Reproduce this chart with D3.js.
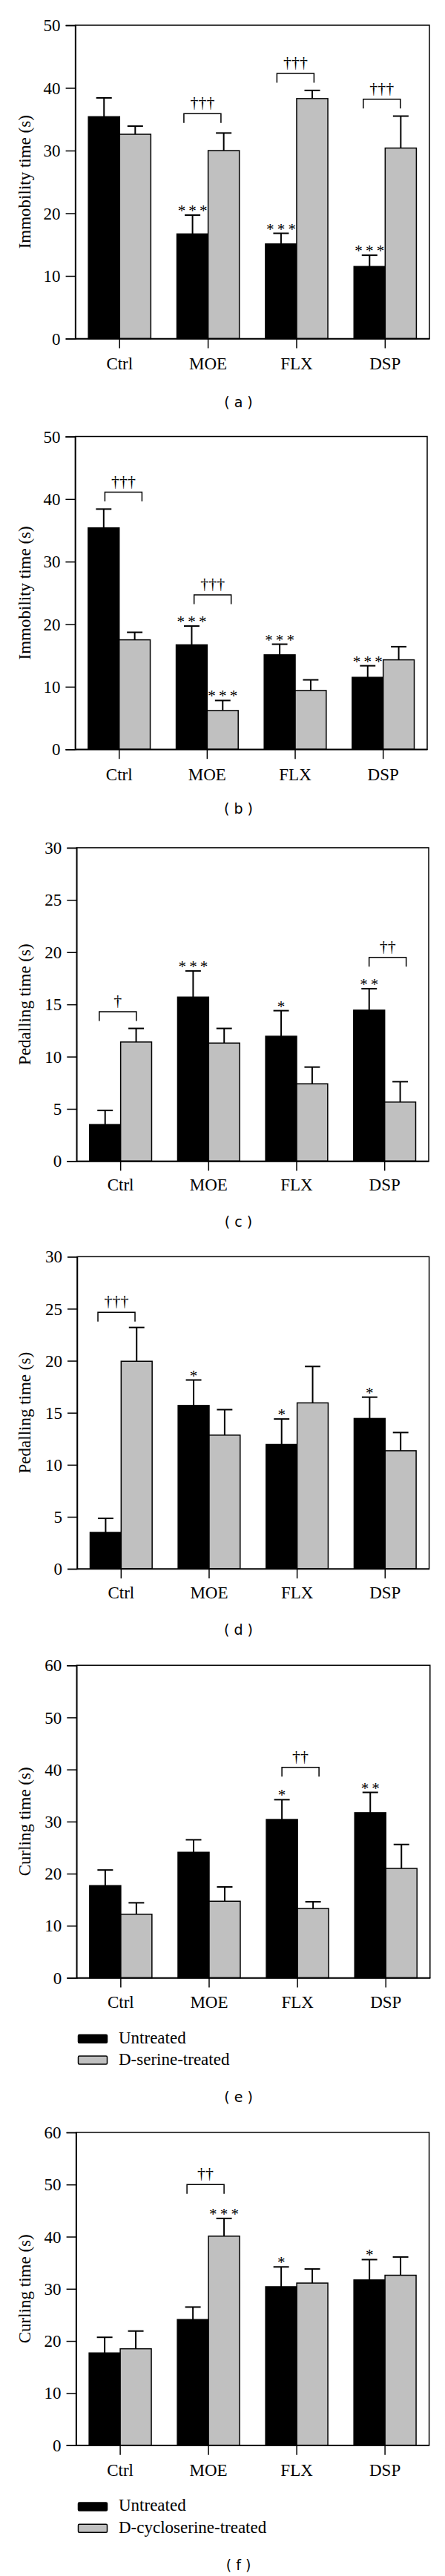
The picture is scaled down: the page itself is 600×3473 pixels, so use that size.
<!DOCTYPE html>
<html><head><meta charset="utf-8">
<script src="https://cdn.jsdelivr.net/npm/d3@7"></script>
<style>html,body{margin:0;padding:0;background:#fff;}</style>
</head><body>
<script>
// ---------- DATA ----------
const categories = ["Ctrl", "MOE", "FLX", "DSP"];
const panelLetters = ["a", "b", "c", "d", "e", "f"];
const yTitles = ["Immobility time (s)", "Immobility time (s)", "Pedalling time (s)", "Pedalling time (s)", "Curling time (s)", "Curling time (s)"];
const yMax = [50, 50, 30, 30, 60, 60];
const yStep = [10, 10, 5, 5, 10, 10];

const untreatedMean = [
  [35.4, 16.7, 15.1, 11.5],
  [35.4, 16.7, 15.1, 11.5],
  [3.5, 15.7, 11.95, 14.45],
  [3.5, 15.7, 11.95, 14.45],
  [17.7, 24.1, 30.4, 31.7],
  [17.7, 24.1, 30.4, 31.7]
];
const untreatedSem = [
  [3.0, 3.0, 1.7, 1.8],
  [3.0, 3.0, 1.7, 1.85],
  [1.35, 2.5, 2.45, 2.05],
  [1.35, 2.45, 2.45, 2.05],
  [3.0, 2.4, 3.8, 3.9],
  [3.0, 2.4, 3.8, 3.9]
];
const treatedMean = [
  [32.6, 30.0, 38.3, 30.4],
  [17.5, 6.2, 9.4, 14.3],
  [11.4, 11.3, 7.4, 5.65],
  [19.95, 12.85, 15.95, 11.35],
  [12.2, 14.7, 13.3, 21.0],
  [18.5, 40.1, 31.1, 32.6]
];
const treatedSem = [
  [1.3, 2.8, 1.3, 5.1],
  [1.2, 1.6, 1.7, 2.1],
  [1.3, 1.4, 1.6, 1.95],
  [3.25, 2.45, 3.5, 1.75],
  [2.2, 2.75, 1.3, 4.6],
  [3.4, 3.4, 2.7, 3.5]
];
const legendLabels = [null, null, null, null,
  ["Untreated", "D-serine-treated"],
  ["Untreated", "D-cycloserine-treated"]];

// significance vs control (asterisks): [panel, category, series(0=untreated,1=treated), label]
const starMarks = [
  [0, "MOE", 0, "***"], [0, "FLX", 0, "***"], [0, "DSP", 0, "***"],
  [1, "MOE", 0, "***"], [1, "MOE", 1, "***"], [1, "FLX", 0, "***"], [1, "DSP", 0, "***"],
  [2, "MOE", 0, "***"], [2, "FLX", 0, "*"], [2, "DSP", 0, "**"],
  [3, "MOE", 0, "*"], [3, "FLX", 0, "*"], [3, "DSP", 0, "*"],
  [4, "FLX", 0, "*"], [4, "DSP", 0, "**"],
  [5, "MOE", 1, "***"], [5, "FLX", 0, "*"], [5, "DSP", 0, "*"]
];
// brackets (daggers): [panel, category, level(value), label]
const bracketMarks = [
  [0, "MOE", 35.9, "†††"], [0, "FLX", 42.3, "†††"], [0, "DSP", 38.2, "†††"],
  [1, "Ctrl", 41.1, "†††"], [1, "MOE", 24.7, "†††"],
  [2, "Ctrl", 14.3, "†"], [2, "DSP", 19.5, "††"],
  [3, "Ctrl", 24.65, "†††"],
  [4, "FLX", 40.4, "††"],
  [5, "MOE", 50.0, "††"]
];

// ---------- LAYOUT ----------
const layout = [
  {top: 34, bottom: 456.5, left: 101.6, right: 579, catY: 490, labelY: 542},
  {top: 588.5, bottom: 1010.2, left: 101.4, right: 576, catY: 1043.5, labelY: 1089.8},
  {top: 1142.9, bottom: 1565.4, left: 103.3, right: 578, catY: 1596.9, labelY: 1646.8},
  {top: 1694.3, bottom: 2115.1, left: 104, right: 578.6, catY: 2146.5, labelY: 2196.5},
  {top: 2245.2, bottom: 2666.5, left: 103.3, right: 579.8, catY: 2698.9, labelY: 2827.4, legendY: [2748.7, 2777.6]},
  {top: 2874.9, bottom: 3296.7, left: 102.6, right: 578.6, catY: 3330.3, labelY: 3458.1, legendY: [3379.5, 3408.7]}
];
const bracketNudge = {"0MOE": -7.7, "0FLX": -1.6, "0DSP": -4.5, "1Ctrl": 5.7, "1MOE": 7.3,
  "2Ctrl": -3.8, "2DSP": 4, "3Ctrl": -6.3, "4FLX": 4, "5MOE": -4};

const SERIF = "'Liberation Serif','Times New Roman',serif";
const SANS = "'DejaVu Sans',Verdana,sans-serif";
const FS = 23;
const GREY = "#c0c0c0";
const LW = 1.5;

const svg = d3.select("body").append("svg")
  .attr("width", 600).attr("height", 3473)
  .style("display", "block");
svg.append("rect").attr("width", 600).attr("height", 3473).attr("fill", "#fff");

panelLetters.forEach((letter, p) => {
  const L = layout[p];
  const g = svg.append("g");
  const y = d3.scaleLinear().domain([0, yMax[p]]).range([L.bottom, L.top]);
  const x0 = d3.scaleBand().domain(categories).range([L.left, L.right]).padding(0);
  const groupW = x0.bandwidth() * 0.705;
  const x1 = d3.scaleBand().domain([0, 1]).range([0, groupW]).padding(0);
  const bx = (cat, s) => x0(cat) + (x0.bandwidth() - groupW) / 2 + x1(s);
  const bw = x1.bandwidth();

  // bars
  const rows = [];
  categories.forEach((c, i) => {
    rows.push({cat: c, s: 0, m: untreatedMean[p][i], e: untreatedSem[p][i]});
    rows.push({cat: c, s: 1, m: treatedMean[p][i], e: treatedSem[p][i]});
  });
  // error bars (drawn first, bars over them at base)
  rows.forEach(r => {
    const cx = bx(r.cat, r.s) + bw / 2;
    g.append("line").attr("x1", cx).attr("x2", cx)
      .attr("y1", y(r.m)).attr("y2", y(r.m + r.e))
      .attr("stroke", "#000").attr("stroke-width", 2);
    g.append("line").attr("x1", cx - bw / 4).attr("x2", cx + bw / 4)
      .attr("y1", y(r.m + r.e)).attr("y2", y(r.m + r.e))
      .attr("stroke", "#000").attr("stroke-width", 2);
  });
  g.selectAll("rect.bar").data(rows).join("rect").attr("class", "bar")
    .attr("x", d => bx(d.cat, d.s))
    .attr("y", d => y(d.m))
    .attr("width", bw)
    .attr("height", d => y(0) - y(d.m))
    .attr("fill", d => d.s === 0 ? "#000" : GREY)
    .attr("stroke", "#000").attr("stroke-width", LW);

  // frame
  g.append("rect").attr("x", L.left).attr("y", L.top)
    .attr("width", L.right - L.left).attr("height", L.bottom - L.top)
    .attr("fill", "none").attr("stroke", "#000").attr("stroke-width", LW);

  // y axis
  const yAxis = d3.axisLeft(y).tickValues(d3.range(0, yMax[p] + 0.001, yStep[p]))
    .tickSize(13).tickPadding(7).tickFormat(d3.format("d"));
  const ya = g.append("g").attr("transform", `translate(${L.left},0)`).call(yAxis);
  ya.select(".domain").attr("stroke-width", LW);
  ya.selectAll(".tick line").attr("stroke-width", LW);
  ya.selectAll(".tick text").attr("font-family", SERIF).attr("font-size", FS).attr("fill", "#000").attr("dy", "0.33em");

  // x axis
  const xAxis = d3.axisBottom(x0).tickSize(13).tickSizeOuter(0).tickFormat(() => "");
  const xa = g.append("g").attr("transform", `translate(0,${L.bottom})`).call(xAxis);
  xa.select(".domain").attr("stroke-width", LW);
  xa.selectAll(".tick line").attr("stroke-width", LW);
  g.selectAll("text.cat").data(categories).join("text").attr("class", "cat")
    .attr("x", d => x0(d) + x0.bandwidth() / 2)
    .attr("y", L.catY + 8)
    .attr("text-anchor", "middle")
    .attr("font-family", SERIF).attr("font-size", FS)
    .text(d => d);

  // y title
  g.append("text")
    .attr("transform", `translate(33.5,${(L.top + L.bottom) / 2}) rotate(-90)`)
    .attr("text-anchor", "middle").attr("dominant-baseline", "central")
    .attr("font-family", SERIF).attr("font-size", FS)
    .text(yTitles[p]);

  // asterisks
  starMarks.filter(s => s[0] === p).forEach(s => {
    const i = categories.indexOf(s[1]);
    const m = s[2] === 0 ? untreatedMean[p][i] + untreatedSem[p][i] : treatedMean[p][i] + treatedSem[p][i];
    const cx = bx(s[1], s[2]) + bw / 2;
    g.append("text").attr("x", cx).attr("y", y(m) + 1)
      .attr("text-anchor", "middle")
      .attr("font-family", SERIF).attr("font-size", 21)
      .text(s[3].split("").join("\u2009"));
  });

  // brackets
  bracketMarks.filter(b => b[0] === p).forEach(b => {
    const cx = x0(b[1]) + x0.bandwidth() / 2 + (bracketNudge[p + b[1]] || 0);
    const yy = y(b[2]);
    const half = 25;
    g.append("path")
      .attr("d", `M${cx - half},${yy + 12.5}V${yy}H${cx + half}V${yy + 12.5}`)
      .attr("fill", "none").attr("stroke", "#000").attr("stroke-width", LW);
    g.append("text").attr("x", cx).attr("y", yy - 8)
      .attr("text-anchor", "middle")
      .attr("font-family", SERIF).attr("font-size", 22)
      .text(b[3]);
  });

  // legend
  if (legendLabels[p]) {
    legendLabels[p].forEach((lab, k) => {
      const ly = L.legendY[k];
      g.append("rect").attr("x", 105.5).attr("y", ly - 5.5).attr("width", 39).attr("height", 11)
        .attr("rx", 1.5)
        .attr("fill", k === 0 ? "#000" : GREY).attr("stroke", "#000").attr("stroke-width", LW);
      g.append("text").attr("x", 160).attr("y", ly - 1.7 + 7.6)
        .attr("font-family", SERIF).attr("font-size", FS)
        .text(lab);
    });
  }

  // panel label
  g.append("text").attr("x", 321.5).attr("y", L.labelY + 7)
    .attr("text-anchor", "middle")
    .attr("font-family", SANS).attr("font-size", 19)
    .attr("xml:space", "preserve")
    .text(`( ${letter} )`);
});
</script>
</body></html>
